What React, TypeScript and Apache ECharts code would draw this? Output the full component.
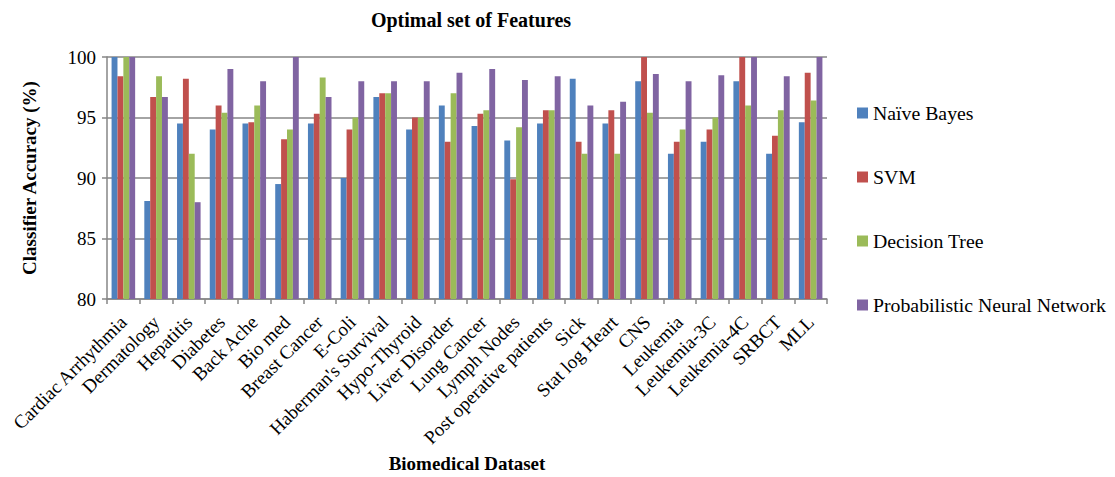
import React, { useEffect, useRef } from "react";
import * as echarts from "echarts";

const datasets = [
  "Cardiac Arrhythmia", "Dermatology", "Hepatitis", "Diabetes", "Back Ache", "Bio med",
  "Breast Cancer", "E-Coli", "Haberman's Survival", "Hypo-Thyroid", "Liver Disorder",
  "Lung Cancer", "Lymph Nodes", "Post operative patients", "Sick", "Stat log Heart",
  "CNS", "Leukemia", "Leukemia-3C", "Leukemia-4C", "SRBCT", "MLL",
];

const naiveBayes = [100, 88.1, 94.5, 94, 94.5, 89.5, 94.5, 90, 96.7, 94, 96, 94.3, 93.1, 94.5, 98.2, 94.5, 98, 92, 93, 98, 92, 94.6];
const svm = [98.4, 96.7, 98.2, 96, 94.6, 93.2, 95.3, 94, 97, 95, 93, 95.3, 89.9, 95.6, 93, 95.6, 100, 93, 94, 100, 93.5, 98.7];
const decisionTree = [100, 98.4, 92, 95.4, 96, 94, 98.3, 95, 97, 95, 97, 95.6, 94.2, 95.6, 92, 92, 95.4, 94, 95, 96, 95.6, 96.4];
const pnn = [100, 96.7, 88, 99, 98, 100, 96.7, 98, 98, 98, 98.7, 99, 98.1, 98.4, 96, 96.3, 98.6, 98, 98.5, 100, 98.4, 100];

const seriesNames = ["Naïve Bayes", "SVM", "Decision Tree", "Probabilistic Neural Network"];
const seriesColors = ["#4F81BD", "#C0504D", "#9BBB59", "#8064A2"];
const yTicks = [80, 85, 90, 95, 100];

const FONT = "Liberation Serif";

export default function App() {
  const ref = useRef<HTMLDivElement>(null);

  useEffect(() => {
    if (!ref.current) return;
    const chart = echarts.init(ref.current, null, { renderer: "svg" });
    const values = [naiveBayes, svm, decisionTree, pnn];

    chart.setOption({
      animation: false,
      textStyle: { fontFamily: FONT, color: "#000" },
      title: {
        text: "Optimal set of Features",
        left: 466,
        top: 5,
        textAlign: "center",
        textStyle: { fontFamily: FONT, fontWeight: "bold", fontSize: 20, color: "#000" },
      },
      legend: {
        orient: "vertical",
        left: 857,
        top: 103,
        padding: 0,
        itemGap: 44,
        itemWidth: 11,
        itemHeight: 11,
        icon: "rect",
        formatter: "{t|{name}}",
        textStyle: {
          fontFamily: FONT,
          fontSize: 20,
          color: "#000",
          rich: { t: { fontFamily: FONT, fontSize: 19.8, color: "#000" } },
        },
        data: seriesNames,
      },
      grid: { left: 107, right: 288, top: 57, bottom: 178, outerBoundsMode: "none", containLabel: false },
      xAxis: {
        type: "category",
        data: datasets,
        name: "Biomedical Dataset",
        nameLocation: "middle",
        nameGap: 154,
        nameTextStyle: { fontFamily: FONT, fontWeight: "bold", fontSize: 19, color: "#000" },
        axisLine: { lineStyle: { color: "#868686", width: 1.5 } },
        axisTick: { show: true, length: 5, alignWithLabel: false, lineStyle: { color: "#868686", width: 1.5 } },
        axisLabel: {
          rotate: 45,
          interval: 0,
          fontFamily: FONT,
          fontSize: 19,
          color: "#000",
          margin: 20,
        },
      },
      yAxis: {
        type: "value",
        min: yTicks[0],
        max: yTicks[yTicks.length - 1],
        interval: 5,
        name: "Classifier Accuracy (%)",
        nameLocation: "middle",
        nameRotate: 90,
        nameGap: 68,
        nameTextStyle: { fontFamily: FONT, fontWeight: "bold", fontSize: 19, color: "#000" },
        axisLine: { show: true, lineStyle: { color: "#868686", width: 1.5 } },
        axisTick: { show: true, length: 5, lineStyle: { color: "#868686", width: 1.5 } },
        axisLabel: { fontFamily: FONT, fontSize: 19, color: "#000", margin: 11 },
        splitLine: { show: true, lineStyle: { color: "#868686", width: 1.5 } },
      },
      series: seriesNames.map((name, i) => ({
        name,
        type: "bar",
        data: values[i],
        barGap: "0%",
        barCategoryGap: "28%",
        itemStyle: { color: seriesColors[i] },
      })),
    });

    return () => chart.dispose();
  }, []);

  return (
    <div
      ref={ref}
      style={{ position: "fixed", left: 0, top: 0, width: 1115, height: 477, background: "#fff" }}
    />
  );
}
